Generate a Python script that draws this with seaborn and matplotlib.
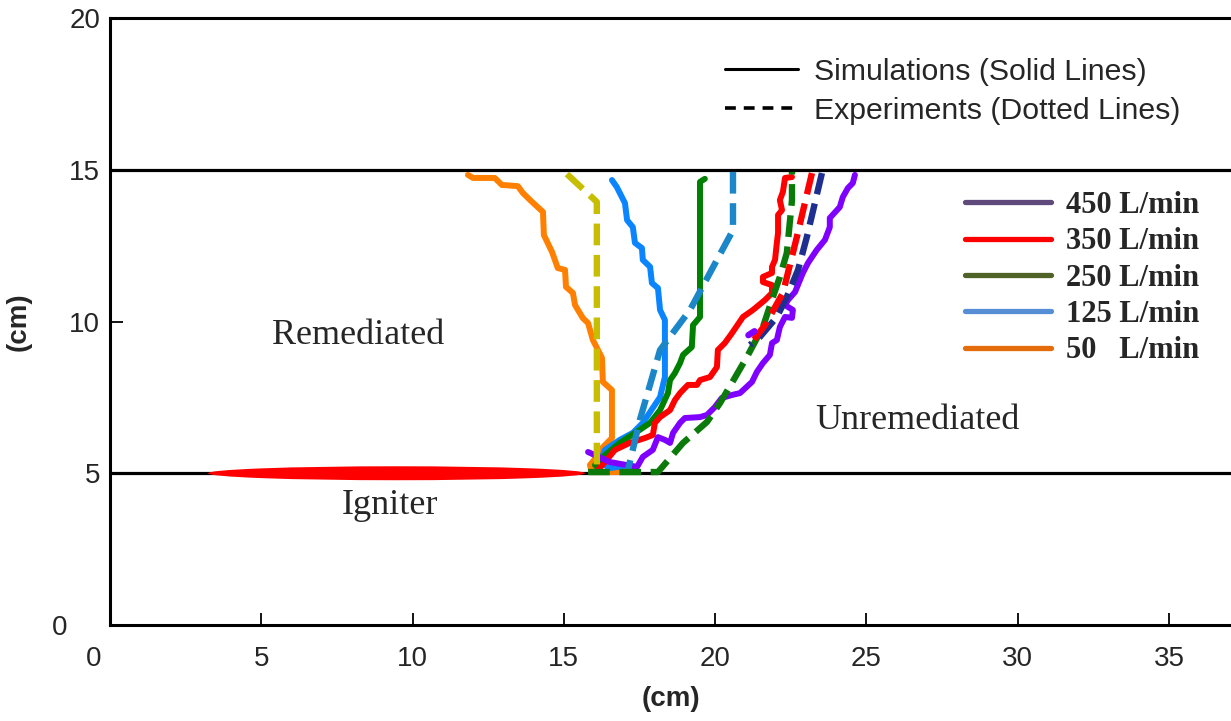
import matplotlib
matplotlib.use("Agg")
import matplotlib.pyplot as plt
import matplotlib.transforms as mtransforms
from matplotlib.lines import Line2D
from matplotlib.patches import Ellipse
import seaborn as sns

# ---- data (cm) ----
sim50_x = [11.83, 12.0, 12.72, 12.95, 13.48, 13.65, 13.95, 14.31, 14.34, 14.61, 14.8, 15.04, 15.07,
           15.3, 15.37, 15.63, 15.8, 15.96, 16.26, 16.29, 16.59, 16.59, 16.29, 16.09, 15.86, 15.93, 16.85]
sim50_y = [14.83, 14.73, 14.73, 14.5, 14.46, 14.23, 13.94, 13.61, 12.85, 12.29, 11.76, 11.7, 11.14,
           10.94, 10.54, 10.11, 9.95, 9.39, 8.8, 8.01, 7.74, 6.16, 5.86, 5.54, 5.27, 5.04, 5.04]
exp50_x = [15.1, 16.09, 16.09]
exp50_y = [14.86, 13.94, 5.1]

sim125_x = [16.59, 16.75, 17.02, 17.09, 17.28, 17.35, 17.58, 17.61, 17.85, 17.91, 18.11, 18.18, 18.34,
            18.34, 18.18, 17.61, 17.28, 16.85, 16.36, 16.19, 16.52, 17.18]
sim125_y = [14.66, 14.43, 13.9, 13.34, 13.11, 12.59, 12.42, 12.03, 11.8, 11.27, 11.1, 10.38, 10.05,
            8.17, 7.51, 6.66, 6.33, 6.1, 5.77, 5.37, 5.17, 5.27]
exp125_x = [20.59, 20.59, 19.17, 18.18, 17.51, 17.12]
exp125_y = [14.93, 13.01, 10.38, 9.06, 6.75, 5.11]

sim250_x = [19.66, 19.5, 19.5, 19.27, 19.23, 18.94, 18.84, 18.67, 18.51, 18.44, 18.18, 17.85, 17.51,
            16.85, 16.36, 16.03, 16.19]
sim250_y = [14.7, 14.6, 10.15, 9.88, 9.16, 8.9, 8.63, 8.3, 8.07, 7.64, 7.08, 6.66, 6.43,
            6.0, 5.6, 5.27, 5.11]
exp250_x = [15.8, 18.11, 18.94, 19.73, 20.16, 20.55, 21.05, 21.58, 21.91, 22.14, 22.37, 22.54, 22.54]
exp250_y = [5.04, 5.04, 6.0, 6.69, 7.31, 7.97, 8.83, 9.82, 10.81, 11.47, 12.26, 14.0, 14.93]

sim350_x = [22.54, 22.31, 22.24, 22.14, 22.21, 22.08, 22.08, 22.04, 21.98, 21.88, 21.88, 21.58, 21.58,
            21.88, 21.88, 21.65, 21.25, 20.92, 20.56, 20.32, 20.09, 20.06, 19.83, 19.5, 19.4, 19.1,
            18.84, 18.67, 18.51, 18.18, 18.01, 17.94, 17.68, 17.18, 16.69, 16.36, 16.13]
sim350_y = [14.76, 14.73, 14.27, 14.0, 13.67, 13.51, 12.92, 12.59, 12.03, 11.8, 11.6, 11.47, 11.3,
            11.2, 10.94, 10.71, 10.38, 10.15, 9.62, 9.29, 9.06, 8.5, 8.17, 8.07, 7.91, 7.91,
            7.64, 7.41, 7.08, 6.85, 6.66, 6.26, 6.16, 6.0, 5.77, 5.37, 5.11]
exp350_x = [23.2, 22.7, 22.24, 21.65, 21.15]
exp350_y = [14.89, 12.78, 10.94, 9.88, 9.23]

sim450_x = [15.8, 16.52, 17.42, 17.61, 17.94, 18.11, 18.34, 18.51, 18.61, 18.84, 19.0, 19.5, 19.73,
            19.99, 20.22, 20.56, 20.82, 21.22, 21.38, 21.58, 21.81, 21.88, 22.04, 22.14, 22.31, 22.54,
            22.57, 22.31, 22.41, 22.64, 22.9, 23.07, 23.36, 23.63, 23.79, 23.79, 24.12, 24.22, 24.39,
            24.55, 24.62]
sim450_y = [5.7, 5.37, 5.21, 5.54, 5.77, 6.19, 6.1, 6.0, 6.33, 6.66, 6.82, 6.85, 6.92,
            7.18, 7.48, 7.58, 7.64, 8.01, 8.34, 8.63, 8.9, 9.29, 9.39, 9.82, 10.15, 10.12,
            10.38, 10.54, 10.71, 10.97, 11.6, 11.93, 12.36, 12.69, 13.11, 13.41, 13.77, 14.1, 14.4,
            14.56, 14.83]
exp450_x = [23.53, 23.03, 22.74, 22.37, 22.04, 21.48, 21.15]
exp450_y = [14.89, 12.78, 11.7, 10.81, 10.15, 9.49, 9.23]
exp450b_x = [21.1, 21.3]
exp450b_y = [9.55, 9.68]

flow_labels = ["450 L/min", "350 L/min", "250 L/min", "125 L/min", "50   L/min"]
flow_colors = ["#604A7B", "#FF0000", "#4F6228", "#558ED5", "#E46C0A"]

sns.set_theme(style="ticks")
plt.rcParams["font.family"] = ["Liberation Sans", "DejaVu Sans"]

fig = plt.figure(figsize=(12.31, 7.21), dpi=100)
ax = fig.add_axes([110 / 1231, 96 / 721, 1121 / 1231, 607 / 721])

ax.axhline(15, color="black", lw=2.3, zorder=1)
ax.axhline(5, color="black", lw=2.3, zorder=1)

dash = (0, (3.4, 1.5))
sim_lw = 4.3
exp_lw = 4.6

# simulations (solid)
sns.lineplot(x=sim50_x, y=sim50_y, sort=False, estimator=None, ax=ax, color="#FF8000", lw=sim_lw)
sns.lineplot(x=sim125_x, y=sim125_y, sort=False, estimator=None, ax=ax, color="#0A85FF", lw=sim_lw)
sns.lineplot(x=sim250_x, y=sim250_y, sort=False, estimator=None, ax=ax, color="#008000", lw=sim_lw)
sns.lineplot(x=sim350_x, y=sim350_y, sort=False, estimator=None, ax=ax, color="#FF0000", lw=sim_lw)
sns.lineplot(x=sim450_x, y=sim450_y, sort=False, estimator=None, ax=ax, color="#8000FF", lw=sim_lw)

# experiments (dashed)
sns.lineplot(x=exp50_x, y=exp50_y, sort=False, estimator=None, ax=ax, color="#C8BE00", lw=exp_lw, linestyle=dash)
sns.lineplot(x=exp125_x, y=exp125_y, sort=False, estimator=None, ax=ax, color="#1B87C9", lw=exp_lw, linestyle=dash)
sns.lineplot(x=exp250_x, y=exp250_y, sort=False, estimator=None, ax=ax, color="#0B7A0B", lw=exp_lw, linestyle=dash)
sns.lineplot(x=exp450_x, y=exp450_y, sort=False, estimator=None, ax=ax, color="#1F2F8F", lw=exp_lw, linestyle=dash)
sns.lineplot(x=exp350_x, y=exp350_y, sort=False, estimator=None, ax=ax, color="#FF0000", lw=exp_lw, linestyle=dash)
sns.lineplot(x=exp450b_x, y=exp450b_y, sort=False, estimator=None, ax=ax, color="#8000FF", lw=exp_lw)

# igniter
ax.add_patch(Ellipse((9.47, 5.0), 12.46, 0.46, color="#FF0000", lw=0, zorder=3))

serif = ["Liberation Serif", "DejaVu Serif"]
ax.text(8.2, 9.55, "Remediated", fontsize=26, family=serif, ha="center", va="center")
ax.text(26.7, 6.75, "Unremediated", fontsize=26, family=serif, ha="center", va="center")
ax.text(9.25, 3.95, "Igniter", fontsize=26, family=serif, ha="center", va="center")

ax.set_xlim(0, 37.05)
ax.set_ylim(0, 20)
ax.set_xticks(range(0, 40, 5))
ax.set_yticks(range(0, 25, 5))
ax.tick_params(direction="in", length=9, width=1.3, labelsize=20, color="black")
ax.tick_params(axis="x", pad=15)
ax.tick_params(axis="y", pad=7)
ax.set_xlabel("(cm)", fontsize=20, fontweight="bold", labelpad=10)
ax.set_ylabel("(cm)", fontsize=20, fontweight="bold")
ax.yaxis.set_label_coords(-0.0696, 0.5)
for s in ["left", "bottom", "top"]:
    ax.spines[s].set_linewidth(2.2)
    ax.spines[s].set_color("black")
ax.spines["right"].set_visible(False)

# the "0" labels sit off to the left of the corner
xl0 = ax.xaxis.get_major_ticks()[0].label1
xl0.set_transform(xl0.get_transform() + mtransforms.ScaledTranslation(-0.16, 0, fig.dpi_scale_trans))
yl0 = ax.yaxis.get_major_ticks()[0].label1
yl0.set_transform(yl0.get_transform() + mtransforms.ScaledTranslation(-0.33, 0, fig.dpi_scale_trans))

# legend for line styles
style_handles = [Line2D([], [], color="black", lw=2.2),
                 Line2D([], [], color="black", lw=2.6, linestyle=(0, (3, 2.2)))]
leg1 = ax.legend(style_handles, ["Simulations (Solid Lines)", "Experiments (Dotted Lines)"],
                 loc="upper left", bbox_to_anchor=(725 / 1231, 1 - 58 / 721), bbox_transform=fig.transFigure,
                 frameon=False, fontsize=21.8, handlelength=2.4, handletextpad=0.55, labelspacing=0.36,
                 borderpad=0, borderaxespad=0)
ax.add_artist(leg1)

flow_handles = [Line2D([], [], color=c, lw=3.8) for c in flow_colors]
leg2 = ax.legend(flow_handles, flow_labels, loc="upper left",
                 bbox_to_anchor=(965 / 1231, 1 - 191 / 721), bbox_transform=fig.transFigure,
                 frameon=False, handlelength=2.8, handletextpad=0.5, labelspacing=0.24,
                 borderpad=0, borderaxespad=0,
                 prop={"family": serif, "weight": "bold", "size": 22})

fig.savefig("out.png", dpi=100)
